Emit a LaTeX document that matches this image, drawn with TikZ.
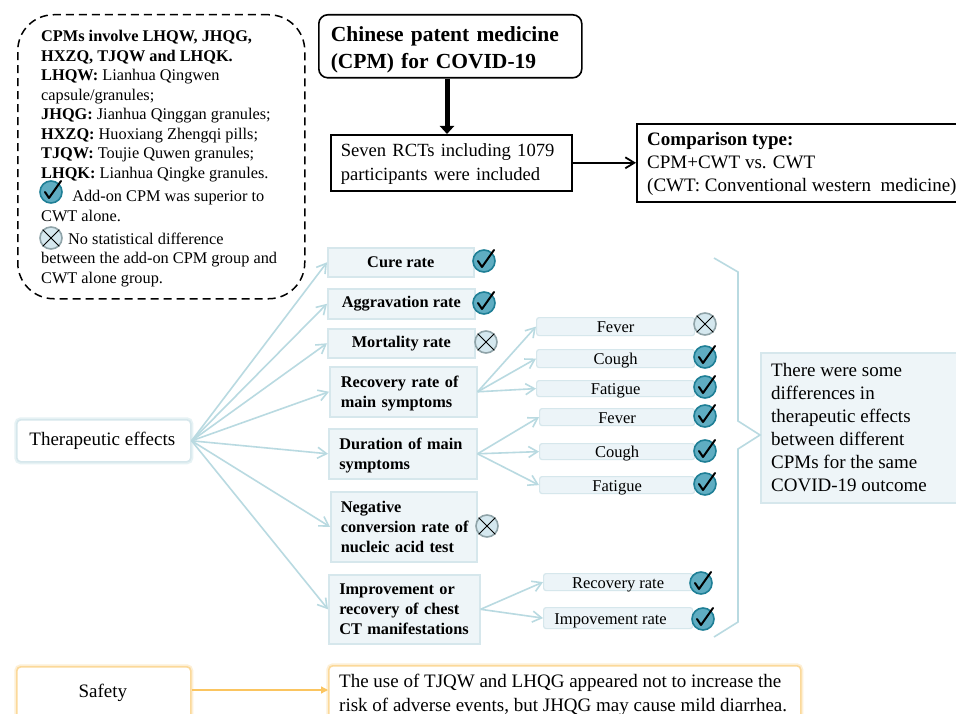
\documentclass[tikz,border=0pt]{standalone}
\usepackage{fontspec}
\setmainfont{Liberation Serif}
\usetikzlibrary{arrows.meta}
\definecolor{edgeblue}{HTML}{B9DAE1}
\definecolor{boxedge}{HTML}{D6E7EC}
\definecolor{boxfill}{HTML}{EEF5F8}
\definecolor{subfill}{HTML}{ECF4F8}
\definecolor{tealfill}{HTML}{5FADC2}
\definecolor{tealedge}{HTML}{1F7F96}
\definecolor{greyedge}{HTML}{8FA3A8}
\definecolor{xfill}{HTML}{D5E8EF}
\definecolor{orangeline}{HTML}{FBC560}
\definecolor{orangeglow}{HTML}{FBD99A}
\tikzset{
  x=1pt,y=-1pt,
  sz/.style n args={2}{minimum width=#1pt,minimum height=#2pt,anchor=north west,inner sep=0pt},
  blackbox/.style={draw=black,line width=1.6pt,fill=white},
  mainbox/.style={draw=boxedge,line width=1.6pt,fill=boxfill,font=\fontsize{16.3}{20}\selectfont\bfseries,align=left},
  subbox/.style={draw=boxedge,line width=1.2pt,fill=subfill,rounded corners=2.5pt,font=\fontsize{16.5}{18}\selectfont,align=center,text height=13pt,text depth=1pt},
  glowblue/.style={draw=boxedge,line width=1.6pt,fill=white,rounded corners=4pt,
    preaction={draw=edgeblue,line width=5pt,opacity=.35}},
  gloworange/.style={draw=orangeglow,line width=1.6pt,fill=white,rounded corners=4pt,
    preaction={draw=orangeglow,line width=5pt,opacity=.4}},
  bluearrow/.style={draw=edgeblue,line width=1.6pt,-{Straight Barb[length=9pt,width=11pt]}},
  okcircle/.style={circle,draw=tealedge,fill=tealfill,line width=1.6pt,minimum size=22pt,inner sep=0pt},
  nocircle/.style={circle,draw=greyedge,fill=xfill,line width=1.6pt,minimum size=22pt,inner sep=0pt},
  okline/.style={draw=black,line width=2pt,line cap=round,line join=round},
  noline/.style={draw=black,line width=1pt},
}
\newcommand{\okmark}[3]{%
  \node[okcircle] (#1) at (#2,#3) {};
  \draw[okline] ([shift={(-6,0)}]#1.center) -- ([shift={(-2,6)}]#1.center) -- ([shift={(10,-11)}]#1.center);
}
\newcommand{\nomark}[3]{%
  \node[nocircle] (#1) at (#2,#3) {};
  \draw[noline] (#1.north west) -- (#1.south east) (#1.north east) -- (#1.south west);
}
\begin{document}
\begin{tikzpicture}
\useasboundingbox (0,0) rectangle (956,714);
\clip (0,0) rectangle (956,714);
\fill[white] (0,0) rectangle (956,714);

% legend
\node[sz={287}{284},draw=black,line width=1.5pt,dash pattern=on 8pt off 5pt,rounded corners=36pt] (legend) at (17,14) {};
\node[anchor=north west,inner sep=0pt,align=left,font=\fontsize{16.3}{19.5}\selectfont] (legendtext) at (41,30) {%
\textbf{CPMs involve LHQW, JHQG,}\\
\textbf{HXZQ, TJQW and LHQK.}\\
\textbf{LHQW:} Lianhua Qingwen\\
capsule/granules;\\
\textbf{JHQG:} Jianhua Qinggan granules;\\
\textbf{HXZQ:} Huoxiang Zhengqi pills;\\
\textbf{TJQW:} Toujie Quwen granules;\\
\textbf{LHQK:} Lianhua Qingke granules.\\[4pt]
\hspace{27pt} Add-on CPM was superior to\\
CWT alone.\\[3.5pt]
\hspace{27pt}No statistical difference\\
between the add-on CPM group and\\
CWT alone group.};
\okmark{legok}{51}{192}
\nomark{legno}{51}{238}

% top flow
\node[sz={263}{63},blackbox,rounded corners=9pt,align=left,text width=239pt,font=\fontsize{21.5}{27}\selectfont\bfseries] (title) at (318,14)
  {\rule{0pt}{21pt}Chinese patent medicine\\(CPM) for COVID-19};
\node[sz={241}{56},blackbox,align=left,text width=221pt,font=\fontsize{18.6}{24}\selectfont] (rcts) at (330,134)
  {\rule{0pt}{15pt}Seven RCTs including 1079\\participants were included};
\node[sz={330}{78},blackbox,anchor=north west] (compare) at (636,123) {};
\node[anchor=north west,inner sep=0pt,align=left,font=\fontsize{19}{23}\selectfont] (comparetext) at (647,132)
  {\textbf{Comparison type:}\\CPM+CWT vs. CWT\\(CWT: Conventional western\ \ medicine)};
\draw[line width=5pt,-{Triangle[length=8pt,width=14pt]}] (title.south -| 447,0) -- (rcts.north -| 447,0);
\draw[line width=1.8pt,-{Straight Barb[length=9pt,width=11pt]}] (rcts.east) -- (compare.west);

% therapeutic effects
\node[sz={174}{42},glowblue,font=\fontsize{19}{22}\selectfont] (ther) at (16,419) {\hspace*{-3pt}Therapeutic effects};
\node[sz={146}{29},mainbox,align=center] (cure) at (327,247) {Cure rate};
\node[sz={147}{30},mainbox,align=center] (aggr) at (327,288) {Aggravation rate};
\node[sz={147}{29},mainbox,align=center] (mort) at (327,328) {Mortality rate};
\node[sz={147}{50},mainbox,text width=125pt] (reco) at (329,366) {\rule{0pt}{14pt}Recovery rate of\\main symptoms};
\node[sz={148}{50},mainbox,text width=127pt] (dura) at (328,428) {\rule{0pt}{14pt}Duration of main\\symptoms};
\node[sz={146}{70},mainbox,text width=126pt] (nega) at (330,491) {Negative\\\mbox{conversion rate of}\\nucleic acid test};
\node[sz={151}{69},mainbox,text width=130pt] (impr) at (328,574) {Improvement or\\recovery of chest\\CT manifestations};

\node[sz={158}{18},subbox] (fevera) at (536,317) {Fever};
\node[sz={158}{18},subbox] (cougha) at (536,349) {Cough};
\node[sz={158}{16},subbox] (fatiga) at (536,380) {Fatigue};
\node[sz={155}{17},subbox] (feverb) at (539,408) {Fever};
\node[sz={155}{16},subbox] (coughb) at (539,443) {Cough};
\node[sz={155}{17},subbox] (fatigb) at (539,476) {Fatigue};
\node[sz={149}{17},subbox] (recrate) at (543,573) {Recovery rate};
\node[sz={149}{21},subbox] (imprate) at (543,607) {\hspace*{-15pt}Impovement rate};

\foreach \t in {cure,aggr,mort,reco,dura,nega,impr}
  \draw[bluearrow] (ther.east) -- (\t.west);
\foreach \t in {fevera,cougha,fatiga}
  \draw[bluearrow] (reco.east) -- (\t.west);
\foreach \t in {feverb,coughb,fatigb}
  \draw[bluearrow] (dura.east) -- (\t.west);
\foreach \t in {recrate,imprate}
  \draw[bluearrow] (impr.east) -- (\t.west);

\okmark{mcure}{484}{261}
\okmark{maggr}{484}{303}
\nomark{mmort}{486}{342}
\nomark{mnega}{487}{526}
\nomark{mfevera}{705}{324}
\okmark{mcougha}{705}{357}
\okmark{mfatiga}{705}{387}
\okmark{mfeverb}{705}{416}
\okmark{mcoughb}{705}{451}
\okmark{mfatigb}{705}{484}
\okmark{mrecrate}{701}{583}
\okmark{mimprate}{703}{619}

% bracket and conclusion
\coordinate (bracetop) at (714,258);
\coordinate (bracebot) at (714,637);
\node[sz={200}{150},draw=boxedge,line width=1.6pt,fill=boxfill] (concl) at (760,352) {};
\node[anchor=north west,inner sep=0pt,align=left,font=\fontsize{19}{23}\selectfont] (concltext) at (771,363)
  {There were some\\differences in\\therapeutic effects\\between different\\CPMs for the same\\COVID-19 outcome};
\draw[draw=edgeblue,line width=1.6pt,line join=miter] (bracetop) -- (738,272) -- (738,421) -- (concl.west |- 0,435) -- (738,449) -- (738,622) -- (bracebot);

% safety
\node[sz={174}{52},gloworange,font=\fontsize{19}{22}\selectfont] (safety) at (16,666) {\hspace*{-2pt}Safety};
\node[sz={472}{53},gloworange] (safebox) at (328,665) {};
\node[anchor=north west,inner sep=0pt,align=left,font=\fontsize{19}{23.5}\selectfont] (safetext) at (339,674)
  {The use of TJQW and LHQG appeared not to increase the\\risk of adverse events, but JHQG may cause mild diarrhea.};
\draw[draw=orangeline,line width=1.3pt,-{Triangle[length=7pt,width=7pt]}] (safety.east |- 0,690) -- (safebox.west |- 0,690);
\end{tikzpicture}
\end{document}
